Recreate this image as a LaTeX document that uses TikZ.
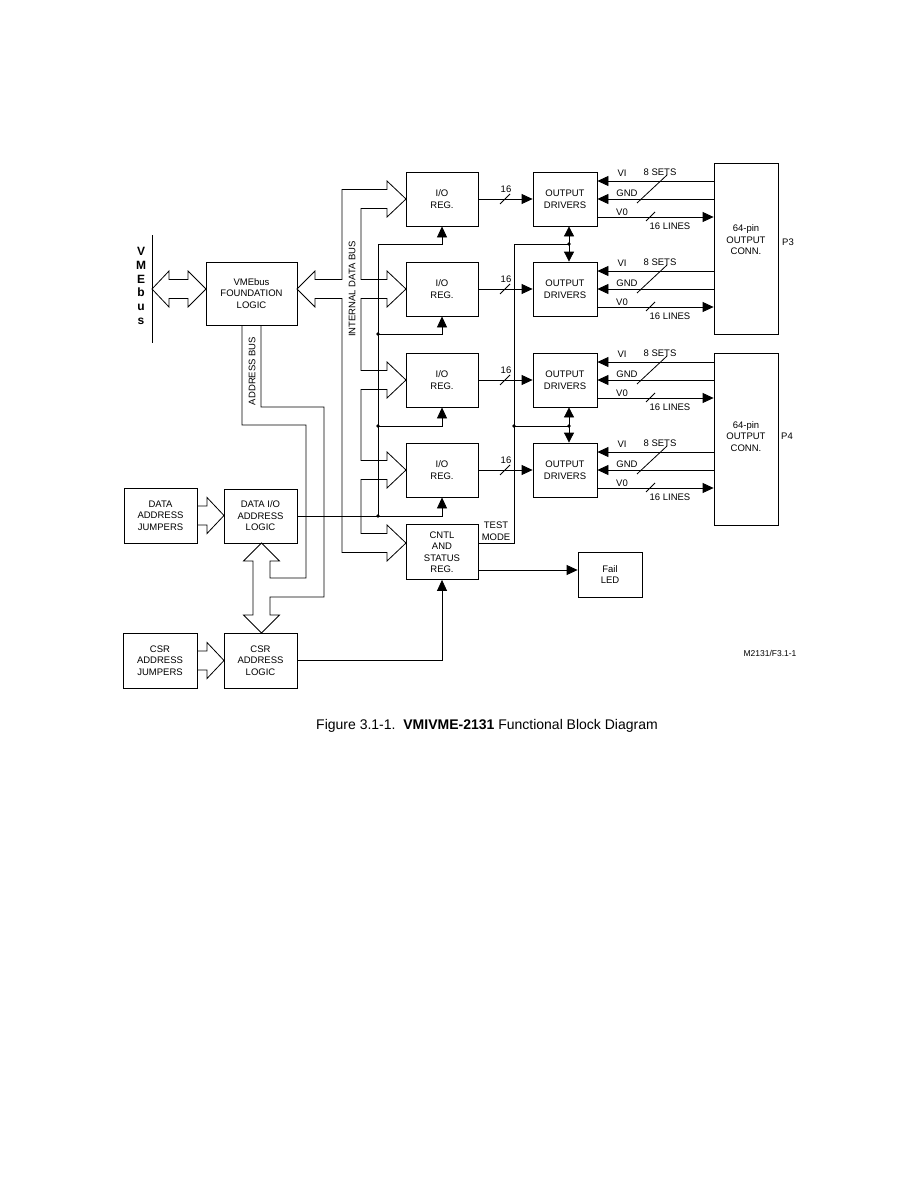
\documentclass[tikz,border=0pt]{standalone}
\usepackage{fontspec}
\setmainfont{Liberation Sans}
\usetikzlibrary{arrows.meta,calc}

\begin{document}
\begin{tikzpicture}[x=1pt,y=-1pt,line width=0.8pt,
  blk/.style={draw,align=center,inner sep=0pt,font=\fontsize{9.5}{11.5}\selectfont},
  lbl/.style={inner sep=0pt,align=center,font=\fontsize{9.5}{11.5}\selectfont},
  arr/.style={-{Triangle[length=11pt,width=10pt]}},
  dblarr/.style={{Triangle[length=10pt,width=10pt]}-{Triangle[length=10pt,width=10pt]}}]
  \fill[white] (0,0) rectangle (918,1188);
  \useasboundingbox (0,0) rectangle (918,1188);

  % VMEbus backplane
  \draw (152,235) -- (152,343);
  \node[inner sep=0pt,align=center,font=\fontsize{12}{13.8}\bfseries] (vmebus) at (141,286) {V\\M\\E\\b\\u\\s};

  % left column
  \node[blk,minimum width=91pt,minimum height=63pt] (vme) at (251.5,293.5) {VMEbus\\FOUNDATION\\LOGIC};
  \node[blk,minimum width=73pt,minimum height=55pt] (djmp) at (160.5,515.5) {DATA\\ADDRESS\\JUMPERS};
  \node[blk,minimum width=73pt,minimum height=54pt] (dio) at (260.5,516) {DATA I/O\\ADDRESS\\LOGIC};
  \node[blk,minimum width=74pt,minimum height=55pt] (cjmp) at (160,660.5) {CSR\\ADDRESS\\JUMPERS};
  \node[blk,minimum width=73pt,minimum height=55pt] (csr) at (260.5,660.5) {CSR\\ADDRESS\\LOGIC};

  % register and driver columns
  \foreach \r/\t in {1/172,2/262,3/353,4/443} {
    \node[blk,minimum width=72pt,minimum height=54pt] (io\r) at (442,\t+27) {I/O\\REG.};
    \node[blk,minimum width=64pt,minimum height=54pt] (od\r) at (565,\t+27) {OUTPUT\\DRIVERS};
  }
  \node[blk,minimum width=72pt,minimum height=55pt] (cntl) at (442,552) {CNTL\\AND\\STATUS\\REG.};
  \node[blk,minimum width=64pt,minimum height=45pt] (led) at (610,574.5) {Fail\\LED};

  % output connectors
  \node[blk,minimum width=64pt,minimum height=171pt] (p3) at (746,248.5) {};
  \node[lbl] (p3txt) at (746,240) {64-pin\\OUTPUT\\CONN.};
  \node[lbl] (p3name) at (788,242) {P3};
  \node[blk,minimum width=64pt,minimum height=172pt] (p4) at (746,439) {};
  \node[lbl] (p4txt) at (746,436.5) {64-pin\\OUTPUT\\CONN.};
  \node[lbl] (p4name) at (787,436) {P4};

  % wide buses
  \draw (152,289) -- (169,271) -- (169,279.5) -- (188,279.5) -- (188,271) -- (206,289)
    -- (188,307) -- (188,298.5) -- (169,298.5) -- (169,307) -- cycle;
  \draw (297,289) -- (315,271) -- (315,279.5) -- (342,279.5) -- (342,189.5) -- (387,189.5)
    -- (387,181) -- (406,199) -- (387,217) -- (387,208.5) -- (361,208.5)
    \foreach \c in {289,380,470} { -- (361,\c-9.5) -- (387,\c-9.5) -- (387,\c-18) -- (406,\c)
      -- (387,\c+18) -- (387,\c+9.5) -- (361,\c+9.5) }
    -- (361,533.5) -- (387,533.5) -- (387,525) -- (406,543) -- (387,561) -- (387,552.5)
    -- (342,552.5) -- (342,298.5) -- (315,298.5) -- (315,307) -- cycle;
  \node[lbl,rotate=90] (idbus) at (352,289) {INTERNAL DATA BUS};
  \draw (242,325) -- (242,425) -- (306,425) -- (306,578) -- (270,578) -- (270,561) -- (279.5,561)
    -- (261.5,543) -- (243.5,561) -- (253,561) -- (253,615) -- (243.5,615) -- (261.5,633)
    -- (279.5,615) -- (270,615) -- (270,597) -- (324,597) -- (324,407) -- (261,407) -- (261,325);
  \node[lbl,rotate=90] (abus) at (252,371) {ADDRESS BUS};
  \foreach \y in {515.5,660.5}
    \draw (197,\y-9.5) -- (207,\y-9.5) -- (207,\y-18) -- (224,\y) -- (207,\y+18) -- (207,\y+9.5) -- (197,\y+9.5);

  % register select lines
  \coordinate (s0) at (378,244);
  \coordinate (s1) at (378,334);
  \coordinate (s2) at (378,426);
  \coordinate (s3) at (378,516);
  \draw[arr] (dio.east) -| (io4.south);
  \draw[arr] (s3) -- (s0) -| (io1.south);
  \draw[arr] (s1) -| (io2.south);
  \draw[arr] (s2) -| (io3.south);
  \foreach \s in {s1,s2,s3} \fill (\s) circle (1.8);

  % test mode
  \coordinate (t0) at (514,244);
  \coordinate (t1) at (514,426);
  \coordinate (j1) at (569,244);
  \coordinate (j2) at (569,426);
  \draw ([yshift=9pt]cntl.east) -| (t0) -- (j1);
  \draw (t1) -- (j2);
  \foreach \s in {t1,j1,j2} \fill (\s) circle (1.8);
  \draw[dblarr] (j1 |- od1.south) -- (j1 |- od2.north);
  \draw[dblarr] (j2 |- od3.south) -- (j2 |- od4.north);
  \node[lbl] (tmode) at (496,531) {TEST\\MODE};

  \draw[arr] (csr.east) -| (cntl.south);
  \coordinate (l0) at (led.west |- 0,570);
  \draw[arr] (cntl.east |- l0) -- (l0);

  % data paths
  \foreach \r/\t/\c in {1/172/p3,2/262/p3,3/353/p4,4/443/p4} {
    \draw[arr] (io\r.east) -- (od\r.west);
    \draw (500,\t+32) -- ++(10,-10);
    \node[lbl] (n\r) at (506,\t+17.5) {16};
    \draw[arr] (\c.west |- 0,\t+9) -- (od\r.east |- 0,\t+9);
    \draw[arr] (\c.west |- 0,\t+27) -- (od\r.east |- 0,\t+27);
    \draw[arr] (od\r.east |- 0,\t+45) -- (\c.west |- 0,\t+45);
    \draw (637,\t+31) -- (667,\t+3);
    \draw (646,\t+49) -- (655,\t+40);
    \node[lbl] (vi\r) at (622,\t+1) {VI};
    \node[lbl] (gnd\r) at (627,\t+21) {GND};
    \node[lbl] (vo\r) at (622,\t+40) {V0};
    \node[lbl] (sets\r) at (660,\t) {8 SETS};
    \node[lbl] (lines\r) at (670,\t+54) {16 LINES};
  }

  \node[inner sep=0pt,font=\fontsize{8.5}{10}\selectfont] (figno) at (770,653) {M2131/F3.1-1};
  \node[inner sep=0pt,font=\fontsize{14}{16}\selectfont] (caption) at (487,726)
    {Figure 3.1-1.\ \ \textbf{VMIVME-2131} Functional Block Diagram};
\end{tikzpicture}
\end{document}
